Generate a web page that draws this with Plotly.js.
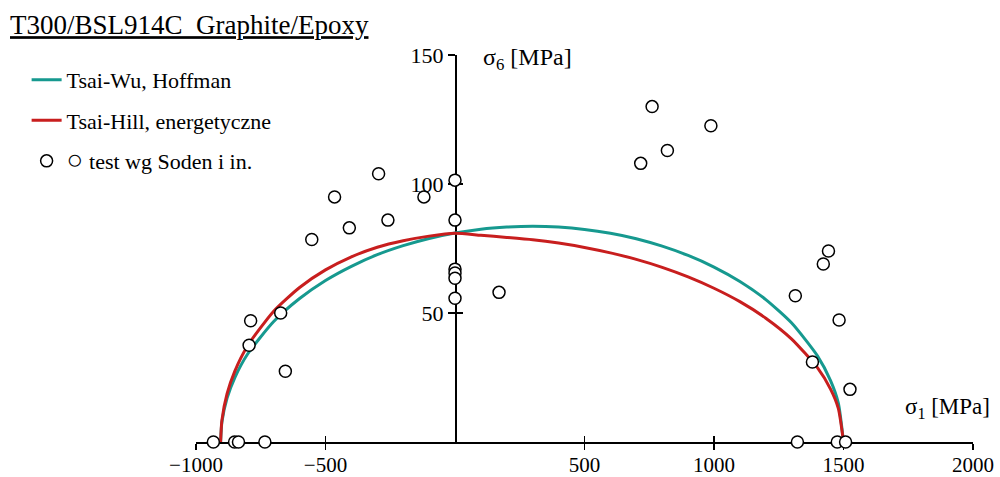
<!DOCTYPE html>
<html>
<head>
<meta charset="utf-8">
<script src="https://cdn.plot.ly/plotly-3.0.1.min.js"></script>
<style>html,body{margin:0;padding:0;background:#fff;}#chart{width:1000px;height:477px;}</style>
</head>
<body>
<div id="chart"></div>
<script>
// Tsai-Wu / Hoffman failure envelope (sigma1, sigma6)
const tsaiWuSigma1 = [-905, -900, -880, -850, -800, -700, -600, -500, -400, -300, -200, -100, 0, 100, 200, 300, 400, 500, 600, 700, 800, 900, 1000, 1100, 1200, 1300, 1400, 1450, 1480, 1500];
const tsaiWuSigma6 = [0, 7.7, 17.0, 25.0, 34.2, 46.7, 55.6, 62.6, 68.1, 72.6, 76.1, 78.9, 81.0, 82.5, 83.3, 83.6, 83.3, 82.4, 80.9, 78.8, 75.9, 72.3, 67.8, 62.2, 55.2, 46.1, 33.3, 23.8, 15.1, 0];
// Tsai-Hill / energetic envelope
const tsaiHillSigma1 = [-905, -900, -880, -850, -800, -700, -600, -500, -400, -300, -200, -100, 0, 100, 200, 300, 400, 500, 600, 700, 800, 900, 1000, 1100, 1200, 1300, 1400, 1450, 1480, 1500];
const tsaiHillSigma6 = [0, 8.4, 18.7, 27.5, 37.4, 50.7, 59.9, 66.7, 71.8, 75.5, 78.0, 79.8, 80.9, 80.1, 79.3, 78.4, 77.1, 75.4, 73.3, 70.8, 67.7, 64.0, 59.6, 54.4, 48.0, 39.9, 28.7, 20.5, 13.0, 0];
// Test points (Soden et al.)
const testSigma1 = [-295, -465, -120, 0, 0, -259, -408, -553, 0, 0, 0, 0, 170, -673, -789, -795, -655, 761, 988, 820, 717, 1442, 1422, 1314, 1483, 1380, 1525, -933, -851, -836, -734, 1322, 1476, 1508];
const testSigma6 = [104, 95, 95, 101.5, 86, 86, 83, 78.5, 67, 65.5, 63.5, 55.7, 58, 50, 47, 37.5, 27.4, 130, 122.6, 113, 108, 74, 69, 56.7, 47.3, 31, 20.4, 0, 0, 0, 0, 0, 0, 0];
// Axis ticks
const xTickVals = [-1000, -500, 500, 1000, 1500, 2000];
const yTickVals = [50, 100, 150];
const xRange = [-1000, 2000];
const yRange = [0, 150];

const serif = "'Liberation Serif', 'Times New Roman', serif";
const teal = '#16998f';
const red = '#c81e1e';

const traces = [
  {x: tsaiWuSigma1, y: tsaiWuSigma6, mode: 'lines', name: 'Tsai-Wu, Hoffman', line: {color: teal, width: 3, shape: 'spline', smoothing: 0.6}, legendgroup: 'a'},
  {x: tsaiHillSigma1, y: tsaiHillSigma6, mode: 'lines', name: 'Tsai-Hill, energetyczne', line: {color: red, width: 3, shape: 'spline', smoothing: 0.6}, legendgroup: 'b'},
  {x: testSigma1, y: testSigma6, mode: 'markers', name: '<span style="font-size:28px">○</span> test wg Soden i in.', cliponaxis: false, legendgroup: 'c',
   marker: {symbol: 'circle', size: 12, color: 'white', line: {color: 'black', width: 1.5}}},
  {x: [], y: [], xaxis: 'x2', yaxis: 'y2', showlegend: false, hoverinfo: 'skip'}
];

const axisFont = {family: serif, size: 21, color: '#000'};
const layout = {
  width: 1000, height: 477,
  margin: {l: 196, r: 27, t: 55, b: 35},
  paper_bgcolor: 'white', plot_bgcolor: 'white',
  font: {family: serif, color: '#000'},
  title: {text: '<u>T300/BSL914C  Graphite/Epoxy</u>', x: 0.01, xanchor: 'left', xref: 'container',
          y: 0.968, yanchor: 'top', yref: 'container', font: {family: serif, size: 27, color: '#000'}},
  xaxis: {range: xRange, tickvals: xTickVals, ticks: 'outside', ticklen: 6, tickwidth: 1.5, tickcolor: '#000',
          showline: true, linecolor: '#000', linewidth: 1.5, showgrid: false, zeroline: false,
          tickfont: axisFont, ticklabelstandoff: -3, layer: 'below traces', fixedrange: true},
  yaxis: {range: yRange, tickvals: yTickVals, ticks: 'outside', ticklen: 7, tickwidth: 1.5, tickcolor: '#000',
          showline: true, linecolor: '#000', linewidth: 1.5, showgrid: false, zeroline: false,
          anchor: 'free', position: 1/3, tickfont: {family: serif, size: 22, color: '#000'}, layer: 'below traces', fixedrange: true},
  xaxis2: {range: xRange, tickvals: xTickVals, ticks: 'inside', ticklen: 6, tickwidth: 1.5, tickcolor: '#000',
           showticklabels: false, showline: false, showgrid: false, zeroline: false, overlaying: 'x', anchor: 'y2', layer: 'below traces'},
  yaxis2: {range: yRange, tickvals: yTickVals, ticks: 'inside', ticklen: 7, tickwidth: 1.5, tickcolor: '#000',
           showticklabels: false, showline: false, showgrid: false, zeroline: false, overlaying: 'y', anchor: 'free', position: 1/3, layer: 'below traces'},
  showlegend: true,
  legend: {x: -0.218, xanchor: 'left', y: 0.99, yanchor: 'top', bgcolor: 'rgba(0,0,0,0)',
           font: {family: serif, size: 22, color: '#000'}, traceorder: 'grouped', tracegroupgap: 9},
  annotations: [
    {text: 'σ<sub>6</sub> [MPa]', xref: 'x', x: 100, xanchor: 'left', yref: 'y', y: 150, yanchor: 'middle', yshift: -4,
     showarrow: false, font: {family: serif, size: 24, color: '#000'}},
    {text: 'σ<sub>1</sub> [MPa]', xref: 'paper', x: 1.024, xanchor: 'right', yref: 'y', y: 13, yanchor: 'middle',
     showarrow: false, font: {family: serif, size: 23, color: '#000'}}
  ],
  hovermode: false
};

Plotly.newPlot('chart', traces, layout, {displayModeBar: false, staticPlot: true});
</script>
</body>
</html>
